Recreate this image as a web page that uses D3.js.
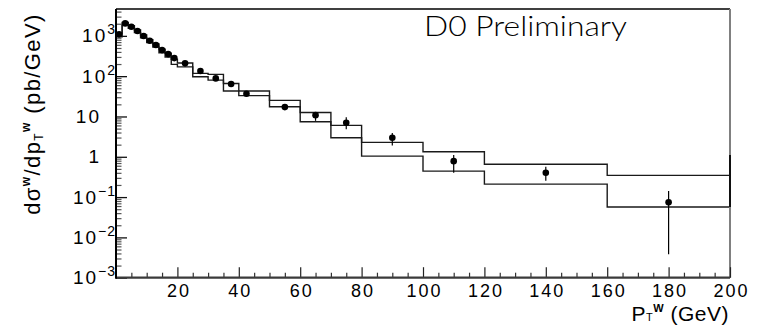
<!DOCTYPE html>
<html>
<head>
<meta charset="utf-8">
<script src="https://cdn.jsdelivr.net/npm/d3@7"></script>
<style>
  body { margin: 0; background: #fff; }
  svg { display: block; }
  text { font-family: "Liberation Sans", Arial, sans-serif; fill: #000; }
</style>
</head>
<body>
<svg width="758" height="328"></svg>
<script>
// data points (bin centres in GeV, cross section in pb/GeV)
var ptCenters = [1, 3, 5, 7, 9, 11, 13, 15, 17, 19, 22.5, 27.5, 32.5, 37.5, 42.5, 55, 65, 75, 90, 110, 140, 180];
var xsec      = [1090, 2040, 1680, 1315, 990, 755, 591, 444, 353, 281, 208, 134, 88, 64, 36.6, 17.1, 10.8, 7.0, 2.96, 0.78, 0.40, 0.074];
var errLow    = [1040, 1960, 1620, 1265, 955, 728, 570, 428, 340, 270, 200, 129, 84.5, 61, 35, 15.8, 7.8, 4.8, 1.9, 0.40, 0.254, 0.0038];
var errHigh   = [1140, 2120, 1740, 1365, 1025, 782, 612, 460, 366, 292, 216, 139, 91.5, 67, 38.2, 18.5, 12.6, 9.5, 3.9, 1.1, 0.565, 0.141];

// theory band, drawn as two histograms
var binEdges  = [0, 2, 4, 6, 8, 10, 12, 14, 16, 18, 20, 25, 30, 35, 40, 50, 60, 70, 80, 100, 120, 160, 200];
var bandUpper = [1150, 2150, 1800, 1400, 1050, 800, 630, 470, 370, 262, 212, 117, 111, 66, 43, 25.1, 12.6, 6.0, 2.28, 1.33, 0.65, 0.345];
var bandLower = [950, 1900, 1550, 1200, 900, 680, 530, 380, 300, 196, 170, 97, 80, 43, 33, 17.4, 7.4, 2.96, 1.04, 0.44, 0.21, 0.057];
var edgeClose = [1.1, 0.057];

var xTickLabels = [20, 40, 60, 80, 100, 120, 140, 160, 180, 200];
var yDecades = [-3, -2, -1, 0, 1, 2, 3];

var svg = d3.select("svg"),
    margin = {top: 9, right: 28, bottom: 50.3, left: 116},
    width = +svg.attr("width") - margin.left - margin.right,
    height = +svg.attr("height") - margin.top - margin.bottom;

var x = d3.scaleLinear().domain([0, 200]).range([margin.left, margin.left + width]);
var y = d3.scaleLog().domain([1e-3, 4640]).range([margin.top + height, margin.top]);

// histograms
var step = d3.line()
    .curve(d3.curveStepAfter)
    .x(function(d) { return x(d[0]); })
    .y(function(d) { return y(d[1]); });

[bandUpper, bandLower].forEach(function(vals) {
    var pts = vals.map(function(v, i) { return [binEdges[i], v]; });
    pts.push([binEdges[binEdges.length - 1], vals[vals.length - 1]]);
    svg.append("path")
        .attr("d", step(pts))
        .style("fill", "none")
        .style("stroke", "#1a1a1a")
        .style("stroke-width", 1.4);
});

// frame: top and right
svg.append("line")
    .attr("x1", x(0)).attr("x2", x(200))
    .attr("y1", y.range()[1]).attr("y2", y.range()[1])
    .style("stroke", "#000").style("stroke-width", 1.3);
svg.append("line")
    .attr("x1", x(200)).attr("x2", x(200))
    .attr("y1", y.range()[1]).attr("y2", y.range()[0])
    .style("stroke", "#808080").style("stroke-width", 2);
svg.append("line")
    .attr("x1", x(200)).attr("x2", x(200))
    .attr("y1", y(edgeClose[0])).attr("y2", y(edgeClose[1]))
    .style("stroke", "#111").style("stroke-width", 2);

// x axis ticks (pointing up)
var xMinor = d3.range(0, 201, 5).filter(function(v) { return v % 20 != 0; });
var xMajor = d3.range(20, 201, 20);
svg.append("g")
    .attr("transform", "translate(0," + y.range()[0] + ")")
    .call(d3.axisTop(x).tickValues(xMinor).tickSize(5).tickFormat("").tickSizeOuter(0))
    .call(function(g) { g.select(".domain").remove(); })
    .selectAll("line").style("stroke", "#333").style("stroke-width", 1.2);
svg.append("g")
    .attr("transform", "translate(0," + y.range()[0] + ")")
    .call(d3.axisTop(x).tickValues(xMajor).tickSize(10.5).tickFormat("").tickSizeOuter(0))
    .call(function(g) { g.select(".domain").remove(); })
    .selectAll("line").style("stroke", "#222").style("stroke-width", 1.2);
var xl = svg.append("g")
    .attr("transform", "translate(0," + y.range()[0] + ")")
    .call(d3.axisBottom(x).tickValues(xTickLabels).tickSize(0).tickPadding(9).tickSizeOuter(0));
xl.select(".domain").remove();
xl.selectAll("text")
    .style("font-family", "'Liberation Sans', Arial, sans-serif")
    .style("font-size", "18px")
    .style("letter-spacing", "2px")
    .style("fill", "#000")
    .attr("dx", 1)
    .attr("dy", "0.71em")
    .attr("y", 7);

// y axis ticks (pointing right, into the plot)
var yMinor = [];
for (var e = -3; e <= 3; e++) {
    for (var m = 2; m <= 9; m++) {
        var v = m * Math.pow(10, e);
        if (v <= y.domain()[1]) yMinor.push(v);
    }
}
var yMajor = yDecades.map(function(d) { return Math.pow(10, d); });
svg.append("g")
    .attr("transform", "translate(" + margin.left + ",0)")
    .call(d3.axisRight(y).tickValues(yMinor).tickSize(5.5).tickFormat("").tickSizeOuter(0))
    .call(function(g) { g.select(".domain").remove(); })
    .selectAll("line").style("stroke", "#555").style("stroke-width", 1.2);
svg.append("g")
    .attr("transform", "translate(" + margin.left + ",0)")
    .call(d3.axisRight(y).tickValues(yMajor).tickSize(11).tickFormat("").tickSizeOuter(0))
    .call(function(g) { g.select(".domain").remove(); })
    .selectAll("line").style("stroke", "#111").style("stroke-width", 1.3);

// axis lines
svg.append("line")
    .attr("x1", x(0)).attr("x2", x(200))
    .attr("y1", y.range()[0]).attr("y2", y.range()[0])
    .style("stroke", "#3a3a3a").style("stroke-width", 2.2);
svg.append("line")
    .attr("x1", x(0)).attr("x2", x(0))
    .attr("y1", y.range()[1]).attr("y2", y.range()[0] + 1)
    .style("stroke", "#000").style("stroke-width", 2);

// y tick labels
yDecades.forEach(function(d) {
    var yy = y(Math.pow(10, d)) + 6.5;
    if (d == 0 || d == 1) {
        svg.append("text")
            .attr("x", 101).attr("y", yy)
            .attr("text-anchor", "end")
            .style("font-size", "19px")
            .style("letter-spacing", "2px")
            .text(d == 0 ? "1" : "10");
    } else {
        var t = svg.append("text")
            .attr("x", 116).attr("y", yy)
            .attr("text-anchor", "end")
            .style("font-size", "19px")
            .style("letter-spacing", "2px");
        t.append("tspan").text("10");
        t.append("tspan")
            .attr("dy", -8)
            .style("font-size", "14px")
            .style("letter-spacing", "1px")
            .text(d < 0 ? "\u2212" + (-d) : String(d));
    }
});

// error bars and markers
var pts = ptCenters.map(function(c, i) {
    return {x: c, v: xsec[i], lo: errLow[i], hi: errHigh[i]};
});
svg.append("g").selectAll("line")
    .data(pts).enter().append("line")
    .attr("x1", function(d) { return x(d.x); })
    .attr("x2", function(d) { return x(d.x); })
    .attr("y1", function(d) { return y(d.lo); })
    .attr("y2", function(d) { return y(d.hi); })
    .style("stroke", "#000").style("stroke-width", 1.2);
svg.append("g").selectAll("circle")
    .data(pts).enter().append("circle")
    .attr("cx", function(d) { return x(d.x); })
    .attr("cy", function(d) { return y(d.v); })
    .attr("r", 3.3)
    .style("fill", "#000");

// titles
var yt = svg.append("text")
    .attr("transform", "translate(40,114) rotate(-90)")
    .attr("text-anchor", "middle")
    .style("font-size", "22px")
    .style("letter-spacing", "1.4px");
yt.append("tspan").text("d\u03c3");
yt.append("tspan").attr("dy", -10).style("font-size", "12px").style("font-weight", "bold").text("w");
yt.append("tspan").attr("dy", 10).text("/dp");
yt.append("tspan").attr("dy", 3).style("font-size", "12px").text("T");
yt.append("tspan").attr("dy", -13).style("font-size", "12px").style("font-weight", "bold").text("w");
yt.append("tspan").attr("dy", 10).text(" (pb/GeV)");

var xt = svg.append("text")
    .attr("x", 729).attr("y", 321)
    .attr("text-anchor", "end")
    .style("font-size", "21px")
    .style("letter-spacing", "0.5px");
xt.append("tspan").text("P");
xt.append("tspan").style("font-size", "11px").text("T");
xt.append("tspan").attr("dy", -9).style("font-size", "11px").style("font-weight", "bold").text("W");
xt.append("tspan").attr("dy", 9).text(" (GeV)");

svg.append("text")
    .attr("x", 424).attr("y", 36)
    .attr("textLength", 203)
    .attr("lengthAdjust", "spacingAndGlyphs")
    .style("font-family", "Lato, 'Open Sans', sans-serif")
    .style("font-weight", 300)
    .style("font-size", "28px")
    .text("D0 Preliminary");
</script>
</body>
</html>
